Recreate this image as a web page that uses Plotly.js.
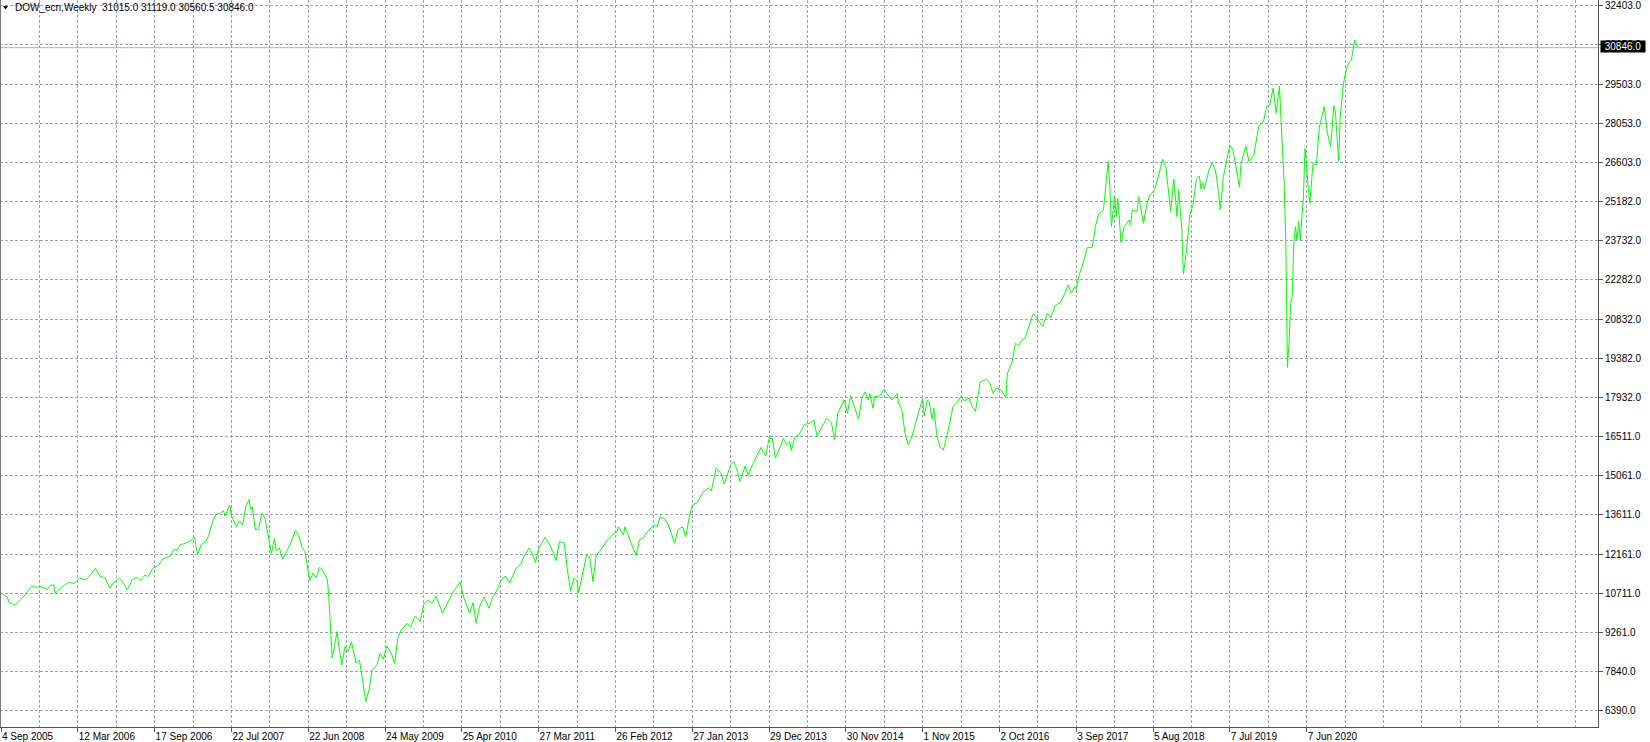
<!DOCTYPE html>
<html>
<head>
<meta charset="utf-8">
<script src="https://cdn.plot.ly/plotly-3.0.1.min.js"></script>
<style>html,body{margin:0;padding:0;background:#fff;}#chart{width:1650px;height:742px;}</style>
</head>
<body>
<div id="chart"></div>
<script>
// ---- data ----
const symbolName = "DOW_ecn,Weekly";
const lastBarOHLC = [31015.0, 31119.0, 30560.5, 30846.0];

const dateLabels = ["4 Sep 2005","12 Mar 2006","17 Sep 2006","22 Jul 2007","22 Jun 2008","24 May 2009",
  "25 Apr 2010","27 Mar 2011","26 Feb 2012","27 Jan 2013","29 Dec 2013","30 Nov 2014","1 Nov 2015",
  "2 Oct 2016","3 Sep 2017","5 Aug 2018","7 Jul 2019","7 Jun 2020"];
const barsPerLabel = 48;
const barsPerGrid = 24;
const totalGridBars = 1000;

const priceTicks = [6390, 7840, 9261, 10711, 12161, 13611, 15061, 16511, 17932, 19382, 20832,
  22282, 23732, 25182, 26603, 28053, 29503, 30953, 32403];

const barIndex = [0,4,5,9,12,15,19,22,25,29,31,33,34,37,42,46,49,53,56,59,62,65,68,70,74,76,79,82,85,87,90,92,95,98,
  101,106,108,110,112,116,119,121,122,123,125,128,130,132,134,137,139,140,143,144,147,149,151,153,155,156,157,159,161,163,165,
  169,171,172,174,176,179,181,184,186,188,190,193,195,197,199,201,203,204,205,206,207,208,210,211,213,215,217,219,222,224,226,228,
  230,232,235,237,239,241,244,246,248,250,254,256,259,261,262,264,267,269,272,276,279,282,287,289,293,295,297,299,
  302,305,307,310,312,315,318,320,322,325,327,330,332,334,336,340,343,345,347,349,352,354,356,358,360,361,364,366,368,370,372,374,379,
  382,385,386,389,390,395,397,399,401,405,408,410,412,415,417,419,421,423,426,428,430,432,435,439,442,444,447,450,452,456,458,460,462,
  465,467,470,475,478,480,482,484,487,489,491,493,494,496,499,502,506,508,510,513,516,519,521,523,527,529,531,534,536,538,540,542,543,545,546,549,
  552,555,557,560,561,563,565,567,569,571,574,576,577,579,580,582,583,585,587,589,592,595,598,600,602,605,607,609,612,616,618,620,622,625,628,629,
  632,634,636,638,640,642,645,647,651,654,656,659,662,664,667,669,671,672,674,676,679,682,684,686,689,691,692,693,694,696,697,698,
  700,702,705,706,707,710,711,714,716,718,721,723,726,728,730,731,733,735,736,738,739,741,743,745,747,749,750,751,752,755,757,759,
  761,762,764,766,768,770,772,774,775,778,780,783,786,789,791,793,795,797,799,801,802,803,804,805,806,807,808,809,810,811,812,814,815,
  817,818,820,822,824,827,829,831,833,834,836,837,839,841,843,844,846,847,848];

const closePrice = [10740,10570,10370,10280,10470,10650,10960,10940,10960,10860,11020,11020,10710,10900,11110,11080,11270,11210,11390,11640,11330,11300,10900,11080,11270,11140,10840,11210,11300,11180,11390,11330,11640,11720,
  11970,12090,12340,12290,12500,12580,12680,12780,12410,12160,12500,12620,12870,13300,13600,13670,13760,13570,13970,13600,13170,13390,13240,13910,14180,13790,13910,13050,13110,13670,13480,
  12190,12740,12290,12380,11970,12310,12560,13030,12870,12430,12250,11180,11450,11300,11670,11570,11300,11210,10470,9240,8320,8620,9300,8810,8070,8740,8560,8930,8130,8250,7520,6720,
  7150,7880,8070,8500,8280,8770,8500,8130,9050,9360,9610,9480,9880,9760,9670,10280,10470,10350,10590,9980,10350,10710,11140,10590,9980,10370,9610,10220,
  10590,10160,10530,10840,11130,11350,11110,11390,11650,11800,12090,12380,12190,11840,12340,12780,12500,12240,11920,12620,12580,11570,10810,11270,11180,10740,11570,12130,12020,11140,12130,12250,12680,
  12870,12990,13170,12870,13170,12380,12130,12680,12740,13050,13240,13160,13540,13450,13240,12930,12560,13050,13170,12800,13480,13970,14060,14460,14590,14500,15330,15140,14750,15450,15570,15260,14830,
  15410,15080,15510,16100,15780,16430,16430,15700,16120,16430,16190,16310,15980,16470,16590,16930,17010,17110,16520,16860,17170,17010,16370,17360,17850,17360,18000,17480,17140,17910,18140,17850,18070,17540,17970,17990,
  18240,17970,17850,18090,17730,17480,16620,16190,16430,16860,17480,17910,17260,17850,17790,17140,17540,16490,16100,16000,16740,17600,17790,17990,17810,17910,17600,17420,18520,18610,18460,18090,18280,18220,17940,18830,
  19260,19940,19840,20060,20120,20490,21020,20920,20550,21050,20870,21350,21440,21660,22090,21790,22030,21930,22500,22830,23480,23480,24240,24710,24860,26090,26640,25720,24240,25350,24610,25290,
  23650,24240,24490,24300,24860,24800,25350,24370,25040,25410,25600,26030,26730,26460,25350,24800,25990,24610,25600,24120,22500,23380,24670,25040,25970,26110,25620,25860,25620,26330,26600,26330,
  25480,24860,26090,26700,27260,27070,26330,25700,26580,27220,26640,26890,27930,28120,28670,28730,29350,28430,29430,26640,25780,23630,19050,19940,21420,21660,23630,24240,23750,24430,23750,25350,27140,
  25720,25110,26580,26520,27930,28670,27690,27190,28700,28480,26640,28300,29530,30120,30330,30390,31130,30950,30846];

// ---- styling ----
const FONT = "Liberation Sans, Arial, sans-serif";
const gridColor = "#98a2b3";
const axisColor = "#555555";
const lastClose = lastBarOHLC[3];

const labelBars = dateLabels.map((_, i) => i * barsPerLabel);
const gridBars = [];
for (let b = 0; b < totalGridBars; b += barsPerGrid) gridBars.push(b);

const trace = {
  type: "scatter", mode: "lines",
  x: barIndex, y: closePrice,
  line: {color: "#00ff00", width: 1},
  hoverinfo: "skip"
};

const layout = {
  width: 1650, height: 742,
  margin: {l: 0, r: 52, t: 0, b: 15, pad: 0},
  paper_bgcolor: "#ffffff", plot_bgcolor: "#ffffff",
  showlegend: false,
  font: {family: FONT, size: 10, color: "#000"},
  xaxis: {
    range: [-0.625, 998.1], fixedrange: true,
    tickmode: "array", tickvals: labelBars, ticktext: dateLabels,
    ticklabelposition: "outside right",
    ticks: "outside", ticklen: 4, tickcolor: axisColor, tickwidth: 1,
    tickfont: {family: FONT, size: 10, color: "#000"},
    showgrid: true, gridcolor: gridColor, griddash: "3px,2px", gridwidth: 1,
    minor: {tickmode: "array", tickvals: gridBars, showgrid: true, gridcolor: gridColor,
            griddash: "3px,2px", gridwidth: 1, ticks: ""},
    showline: true, linecolor: axisColor, linewidth: 1,
    zeroline: false
  },
  yaxis: {
    side: "right", range: [5781, 32606], fixedrange: true,
    tickmode: "array", tickvals: priceTicks, ticktext: priceTicks.map(v => v.toFixed(1)),
    ticks: "outside", ticklen: 4, tickcolor: axisColor, tickwidth: 1,
    tickfont: {family: FONT, size: 10, color: "#000"},
    showgrid: true, gridcolor: gridColor, griddash: "3px,2px", gridwidth: 1,
    showline: true, linecolor: axisColor, linewidth: 1,
    zeroline: false
  },
  shapes: [
    {type: "line", xref: "paper", yref: "y", x0: 0, x1: 1, y0: lastClose, y1: lastClose,
     line: {color: "#a9b1bd", width: 1}, layer: "below"},
    {type: "line", xref: "paper", yref: "paper", x0: 0, x1: 0, y0: 0, y1: 1,
     line: {color: "#777777", width: 2}},
    {type: "path", xref: "paper", yref: "paper", xsizemode: "pixel", ysizemode: "pixel",
     xanchor: 0, yanchor: 1, path: "M 3,-6 L 8,-6 L 5.5,-9.5 Z",
     fillcolor: "#000", line: {width: 0}}
  ],
  annotations: [
    {xref: "paper", yref: "paper", x: 0, y: 1, xanchor: "left", yanchor: "top",
     xshift: 13, yshift: 0, showarrow: false, borderpad: 1,
     text: symbolName + "\u00a0\u00a0" + lastBarOHLC.map(v => v.toFixed(1)).join(" "),
     font: {family: FONT, size: 10, color: "#000"}},
    {xref: "paper", yref: "y", x: 1, y: lastClose, xanchor: "left", yanchor: "middle",
     xshift: 2, yshift: 1, showarrow: false, width: 44, height: 11, borderpad: 0,
     bgcolor: "#000000", text: lastClose.toFixed(1),
     font: {family: FONT, size: 10, color: "#ffffff"}}
  ]
};

Plotly.newPlot("chart", [trace], layout, {displayModeBar: false, staticPlot: true});
</script>
</body>
</html>
